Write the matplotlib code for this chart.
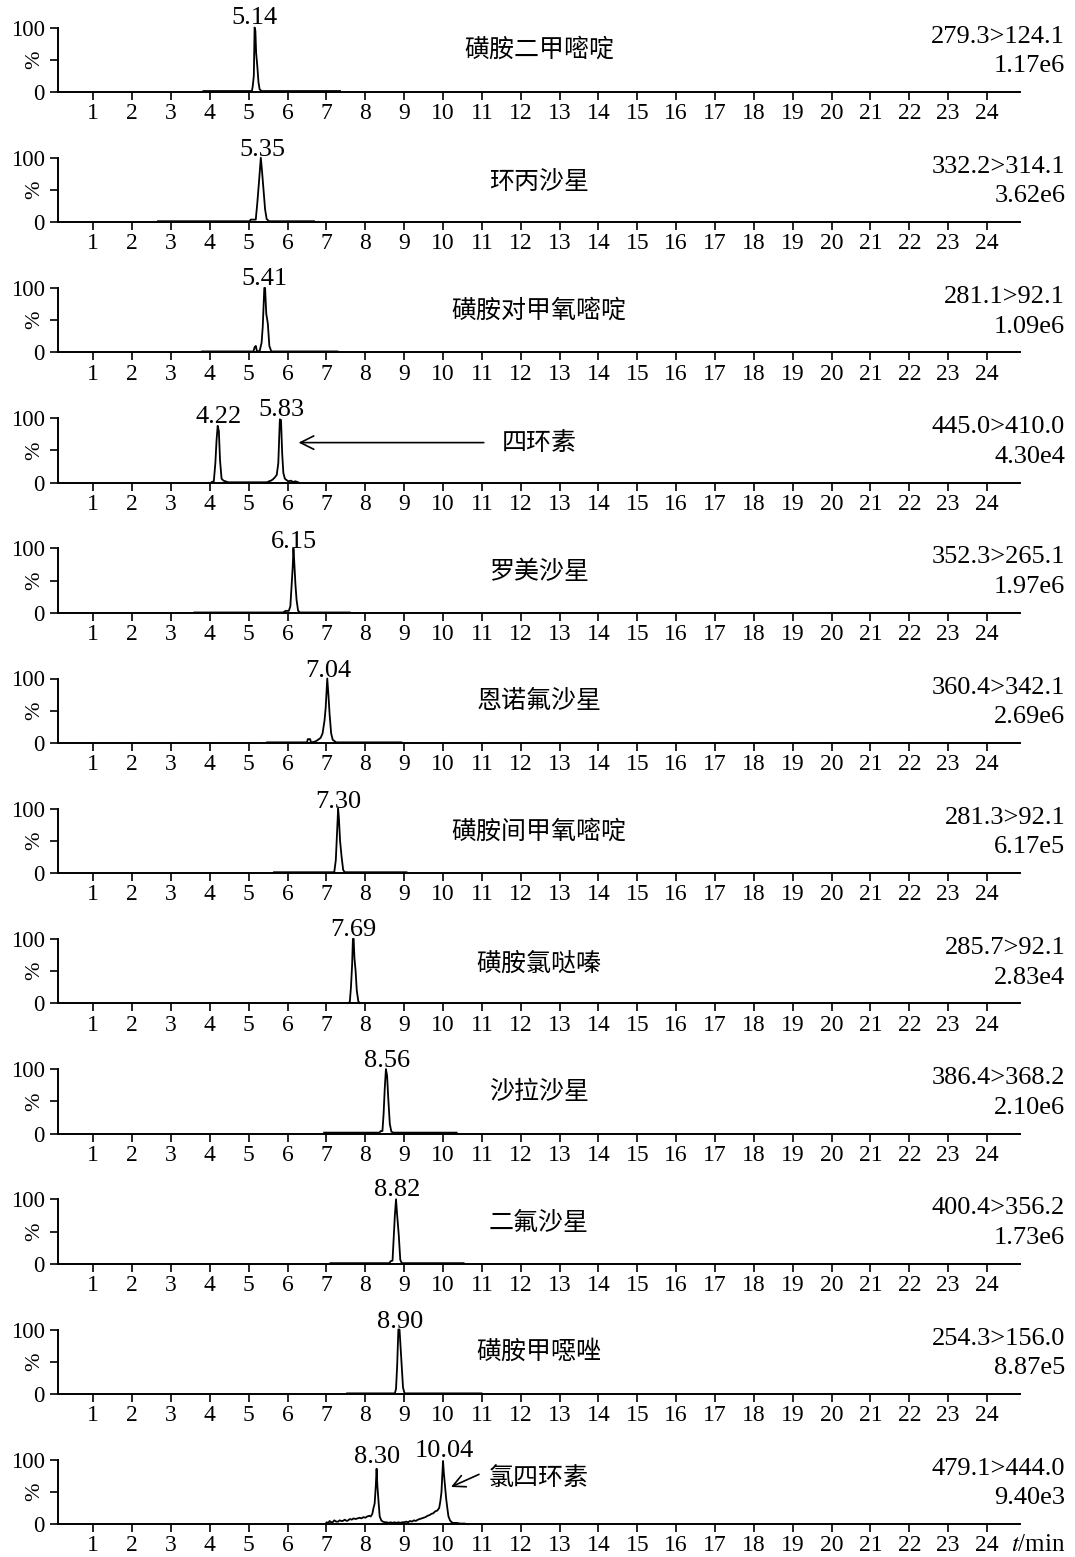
import matplotlib.pyplot as plt

plt.rcParams['font.family'] = ['Liberation Serif', 'Noto Sans CJK SC']
plt.rcParams['mathtext.fontset'] = 'stix'

# compound names, MRM transitions and base-peak intensities
names = ['磺胺二甲嘧啶', '环丙沙星', '磺胺对甲氧嘧啶', '四环素', '罗美沙星', '恩诺氟沙星',
         '磺胺间甲氧嘧啶', '磺胺氯哒嗪', '沙拉沙星', '二氟沙星', '磺胺甲噁唑', '氯四环素']
transitions = ['279.3>124.1', '332.2>314.1', '281.1>92.1', '445.0>410.0', '352.3>265.1',
               '360.4>342.1', '281.3>92.1', '285.7>92.1', '386.4>368.2', '400.4>356.2',
               '254.3>156.0', '479.1>444.0']
scales = ['1.17e6', '3.62e6', '1.09e6', '4.30e4', '1.97e6', '2.69e6',
          '6.17e5', '2.83e4', '2.10e6', '1.73e6', '8.87e5', '9.40e3']

# retention time labels and the height (%) they sit at
rt_labels = [['5.14'], ['5.35'], ['5.41'], ['4.22', '5.83'], ['6.15'], ['7.04'],
             ['7.30'], ['7.69'], ['8.56'], ['8.82'], ['8.90'], ['8.30', '10.04']]
rt_heights = [[105], [102], [105], [93, 103], [101], [102],
              [101], [105], [104], [105], [103], [95, 104]]

# chromatogram traces (time, min / relative intensity, %)
t01 = [3.83, 5.08, 5.10, 5.13, 5.15, 5.17, 5.19, 5.22, 5.25, 5.28, 5.33, 7.35]
i01 = [1.5, 1.5, 8, 25, 100, 95, 60, 40, 15, 4, 1.5, 1.5]
t02 = [2.66, 5.02, 5.05, 5.18, 5.22, 5.26, 5.31, 5.34, 5.38, 5.42, 5.46, 5.52, 6.68]
i02 = [1.5, 1.5, 4, 4, 30, 60, 100, 80, 50, 20, 5, 1.5, 1.5]
t03 = [3.80, 5.12, 5.15, 5.18, 5.21, 5.28, 5.33, 5.36, 5.40, 5.42, 5.45, 5.49, 5.53, 5.58, 7.28]
i03 = [1.5, 1.5, 8, 10, 2, 2, 15, 40, 100, 100, 60, 45, 10, 1.5, 1.5]
t04 = [4.05, 4.10, 4.14, 4.17, 4.20, 4.23, 4.26, 4.30, 4.35, 4.40, 4.47, 5.47, 5.52, 5.57,
       5.62, 5.67, 5.72, 5.76, 5.80, 5.83, 5.86, 5.89, 5.93, 5.97, 6.02, 6.08, 6.14, 6.20, 6.27]
i04 = [1, 2, 30, 65, 88, 80, 35, 6, 3, 2, 0.5, 0.5, 2, 3, 5, 8, 12, 30, 98, 97, 45, 15, 6,
       4, 2, 3, 1, 2, 0.5]
t05 = [3.60, 5.88, 5.95, 6.03, 6.07, 6.10, 6.13, 6.15, 6.17, 6.20, 6.23, 6.27, 6.32, 7.60]
i05 = [0.5, 0.5, 3, 3, 10, 40, 70, 100, 80, 45, 20, 3, 0.5, 0.5]
t06 = [5.47, 6.50, 6.52, 6.58, 6.60, 6.70, 6.76, 6.85, 6.90, 6.95, 6.98, 7.02, 7.05, 7.08,
       7.12, 7.16, 7.25, 8.93]
i06 = [1, 1, 6, 6, 1, 2, 4, 8, 15, 35, 55, 100, 75, 45, 15, 5, 1, 1]
t07 = [5.65, 7.20, 7.24, 7.27, 7.30, 7.32, 7.35, 7.39, 7.43, 7.47, 9.06]
i07 = [1.5, 1.5, 20, 60, 100, 85, 50, 25, 5, 1.5, 1.5]
t08 = [7.55, 7.60, 7.63, 7.66, 7.68, 7.70, 7.72, 7.75, 7.78, 7.82, 7.86]
i08 = [0.5, 2, 25, 60, 100, 100, 70, 50, 20, 3, 0.5]
t09 = [6.94, 8.36, 8.40, 8.44, 8.47, 8.50, 8.53, 8.56, 8.59, 8.63, 8.67, 8.72, 10.35]
i09 = [1.5, 1.5, 4, 4, 30, 70, 100, 90, 55, 15, 3, 1.5, 1.5]
t10 = [7.10, 8.62, 8.65, 8.70, 8.73, 8.76, 8.79, 8.82, 8.86, 8.90, 8.94, 10.53]
i10 = [1, 1, 4, 5, 40, 75, 100, 75, 45, 6, 1, 1]
t11 = [7.53, 8.76, 8.79, 8.82, 8.85, 8.88, 8.91, 8.94, 8.97, 9.01, 10.99]
i11 = [1, 1, 8, 45, 100, 100, 70, 40, 10, 1, 1]
t12 = [6.98, 7.0, 7.05, 7.08, 7.12, 7.16, 7.2, 7.25, 7.3, 7.34, 7.38, 7.42, 7.47, 7.52, 7.56,
       7.6, 7.65, 7.7, 7.75, 7.8, 7.85, 7.9, 7.95, 8.0, 8.05, 8.1, 8.14, 8.18, 8.21, 8.24,
       8.27, 8.29, 8.31, 8.34, 8.37, 8.41, 8.45, 8.5, 8.55, 8.6, 8.65, 8.7, 8.75, 8.8, 8.85,
       8.9, 8.95, 9.0, 9.05, 9.1, 9.15, 9.2, 9.25, 9.3, 9.35, 9.4, 9.45, 9.5, 9.55, 9.6, 9.65,
       9.7, 9.75, 9.8, 9.85, 9.9, 9.93, 9.96, 9.98, 10.0, 10.02, 10.05, 10.08, 10.11, 10.14,
       10.18, 10.22, 10.27, 10.35, 10.45, 10.55, 10.65]
i12 = [0, 3, 2, 5, 3, 3, 6, 4, 4, 6, 5, 5, 7, 5, 6, 8, 7, 9, 8, 9, 10, 9, 11, 10, 12, 13, 12,
       16, 25, 32, 60, 86, 60, 35, 12, 6, 4, 3, 3, 2, 3, 2, 3, 2, 3, 2, 3, 3, 4, 3, 5, 4, 6, 5,
       7, 8, 9, 10, 11, 13, 14, 16, 17, 20, 21, 25, 35, 50, 75, 98, 80, 60, 40, 25, 12, 6, 3,
       2, 2, 1, 1, 0]

times = [t01, t02, t03, t04, t05, t06, t07, t08, t09, t10, t11, t12]
intens = [i01, i02, i03, i04, i05, i06, i07, i08, i09, i10, i11, i12]
name_y = [0.65, 0.62, 0.64, 0.62, 0.64, 0.65, 0.64, 0.62, 0.65, 0.64, 0.66, 0.72]

W, H = 1075, 1557
fig = plt.figure(figsize=(W / 100, H / 100), dpi=100)

axes = []
for k in range(12):
    zero_px = 92 + 130.2 * k
    ax = fig.add_axes([58 / W, 1 - zero_px / H, 962 / W, 64.5 / H])
    ax.plot(times[k], intens[k], color='black', lw=1.3, clip_on=False)
    ax.set_xlim(0.09, 24.85)
    ax.set_ylim(0, 100)
    for s in ['top', 'right']:
        ax.spines[s].set_visible(False)
    for s in ['left', 'bottom']:
        ax.spines[s].set_linewidth(1.4)
    ax.set_xticks(range(1, 25))
    ax.set_yticks([0, 50, 100])
    ax.set_yticklabels(['0', '', '100'])
    ax.tick_params(axis='x', direction='out', length=5.5, width=1.2, labelsize=17, pad=2.5)
    ax.tick_params(axis='y', direction='out', length=5.5, width=1.2, labelsize=16.5, pad=4)
    ax.text(-0.024, 0.5, '%', transform=ax.transAxes, rotation=90, ha='center', va='center',
            fontsize=16)

    for lab, h in zip(rt_labels[k], rt_heights[k]):
        ax.text(float(lab), h, lab, ha='center', va='baseline', fontsize=19)

    ax.text(0.5, name_y[k], names[k], transform=ax.transAxes, ha='center', va='center',
            fontsize=18, family='Noto Sans CJK SC')
    ax.text(1.047, 0.86, transitions[k], transform=ax.transAxes, ha='right', va='center',
            fontsize=19)
    ax.text(1.047, 0.40, scales[k], transform=ax.transAxes, ha='right', va='center',
            fontsize=19)
    axes.append(ax)

# arrows pointing at the marked peaks
axes[3].annotate('', xy=(6.21, 62), xytext=(11.12, 62),
                 arrowprops=dict(arrowstyle='->', color='black', lw=1.2, mutation_scale=24))
axes[11].annotate('', xy=(10.14, 56), xytext=(10.99, 79),
                  arrowprops=dict(arrowstyle='->', color='black', lw=1.2, mutation_scale=22))

axes[11].text(1.047, -0.32, '$t$/min', transform=axes[11].transAxes, ha='right', va='center',
              fontsize=18)

plt.savefig('out.png', dpi=100)
